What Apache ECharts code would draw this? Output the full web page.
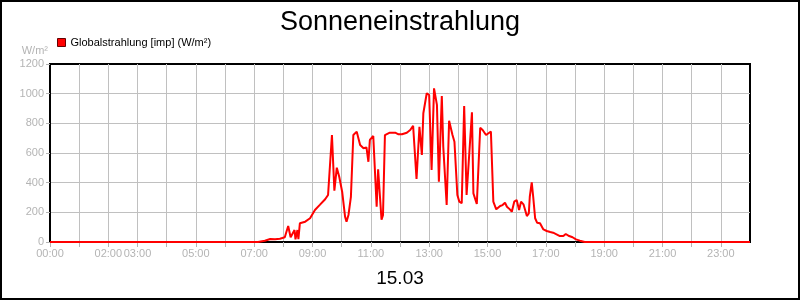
<!DOCTYPE html>
<html>
<head>
<meta charset="utf-8">
<script src="https://cdn.jsdelivr.net/npm/echarts@6/dist/echarts.min.js"></script>
<style>html,body{margin:0;padding:0;background:#fff}#c{width:800px;height:300px}</style>
</head>
<body>
<div id="c"></div>
<script>
const titleText = 'Sonneneinstrahlung';
const dateText = '15.03';
const seriesName = 'Globalstrahlung [imp] (W/m²)';
const unitText = 'W/m²';
const tickLabels = ['00:00','02:00','03:00','05:00','07:00','09:00','11:00','13:00','15:00','17:00','19:00','21:00','23:00'];
const times = ['00:00','07:08','07:22','07:33','07:43','07:53','08:03','08:10','08:15','08:23','08:25','08:29','08:31','08:34','08:45','08:55','09:05','09:15','09:26','09:32','09:40','09:45','09:50','09:55','10:01','10:07','10:10','10:14','10:19','10:24','10:31','10:38','10:45','10:51','10:55','10:58','11:05','11:12','11:15','11:22','11:25','11:29','11:33','11:39','11:50','11:57','12:04','12:14','12:21','12:27','12:31','12:34','12:40','12:45','12:48','12:55','13:00','13:05','13:10','13:16','13:20','13:26','13:29','13:36','13:41','13:48','13:52','13:58','14:02','14:07','14:12','14:17','14:21','14:28','14:31','14:38','14:45','14:50','14:57','15:02','15:07','15:12','15:18','15:26','15:31','15:36','15:40','15:46','15:50','15:55','16:00','16:05','16:09','16:14','16:17','16:21','16:25','16:27','16:31','16:34','16:38','16:42','16:48','16:55','17:02','17:09','17:15','17:22','17:29','17:36','17:41','17:48','17:55','18:02','18:10','18:20','24:00'];
const values = [0,0,8,20,18,22,32,108,32,81,18,81,20,126,137,160,216,250,288,317,721,346,501,440,339,171,137,182,305,721,744,654,632,638,541,688,715,238,490,150,180,721,715,737,737,726,726,737,755,784,789,425,777,587,868,1003,991,485,1036,924,407,984,643,249,818,721,676,317,272,261,917,317,305,874,328,256,770,755,721,733,744,272,220,243,249,265,238,220,204,272,283,216,272,254,243,175,193,305,402,305,160,130,126,85,74,67,63,52,40,40,54,40,32,18,9,0,0];

function toMin(s){const p=s.split(':');return (+p[0])*60+(+p[1]);}
function fmt(v){const h=Math.floor(v/60),m=v%60;return (h<10?'0':'')+h+':'+(m<10?'0':'')+m;}
const data = times.map((t,i)=>[toMin(t), values[i]]);
const grayText = '#b4b4b4';
const font = 'Liberation Sans, Arial, sans-serif';

const chart = echarts.init(document.getElementById('c'), null, {renderer:'canvas'});
chart.setOption({
  animation:false,
  backgroundColor:'#fff',
  textStyle:{fontFamily:font},
  title:[
    {text:titleText,left:'center',top:4,textStyle:{fontSize:27,fontWeight:'normal',color:'#000',fontFamily:font}},
    {text:dateText,left:'center',top:264,textStyle:{fontSize:19,fontWeight:'normal',color:'#000',fontFamily:font}}
  ],
  legend:{left:57,top:37,padding:0,itemWidth:8,itemHeight:8,icon:'rect',
    textStyle:{fontSize:11,color:'#000',fontFamily:font},
    data:[{name:seriesName,itemStyle:{color:'#ff0000',borderColor:'#600',borderWidth:1}}]},
  grid:{left:50,right:50,top:64,bottom:58,show:true,borderColor:'#000',borderWidth:2,backgroundColor:'transparent'},
  xAxis:{type:'value',min:0,max:1440,interval:60,
    axisLine:{show:true,lineStyle:{color:'#000',width:2}},
    axisTick:{show:true,length:5,lineStyle:{color:'#b4b4b4'}},
    axisLabel:{color:grayText,fontSize:11,margin:6,fontFamily:font,showMaxLabel:false,
      formatter:function(v){const s=fmt(v);return tickLabels.indexOf(s)>=0?s:'';}},
    splitLine:{show:true,showMinLine:false,showMaxLine:false,lineStyle:{color:'#c0c0c0',width:1}}},
  yAxis:{type:'value',min:0,max:1200,interval:200,
    name:unitText,nameLocation:'end',nameGap:8,
    nameTextStyle:{color:grayText,fontSize:11,align:'right',padding:[0,2,0,0],fontFamily:font},
    axisLine:{show:true,lineStyle:{color:'#000',width:2}},
    axisTick:{show:true,length:4,lineStyle:{color:'#b4b4b4'}},
    axisLabel:{color:grayText,fontSize:11,margin:6,fontFamily:font,formatter:function(v){return String(v);}},
    splitLine:{show:true,showMinLine:false,showMaxLine:false,lineStyle:{color:'#c0c0c0',width:1}}},
  series:[{name:seriesName,type:'line',data:data,showSymbol:false,symbol:'none',
    lineStyle:{color:'#ff0000',width:2},itemStyle:{color:'#ff0000'}}],
  graphic:[{type:'rect',shape:{x:1,y:1,width:798,height:298},style:{fill:null,stroke:'#000',lineWidth:2},silent:true,z:100}]
});
</script>
</body>
</html>
